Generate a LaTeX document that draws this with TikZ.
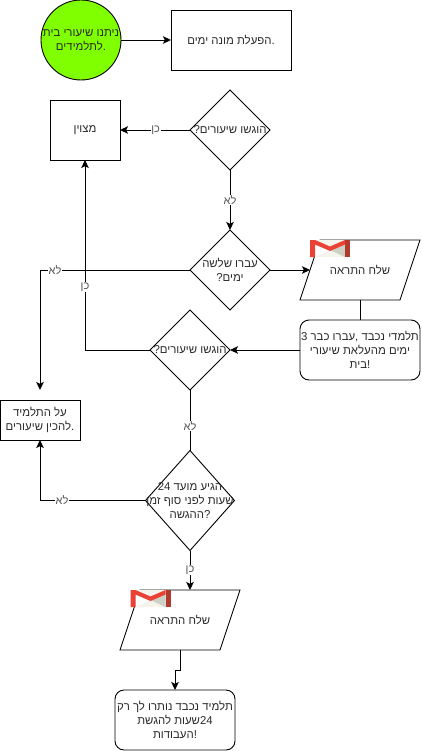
\documentclass[tikz,border=0pt]{standalone}
\usepackage{fontspec}
\setmainfont[Script=Hebrew]{Liberation Sans}
\usetikzlibrary{arrows.meta,shapes.geometric}
\TeXXeTstate=1
\definecolor{txt}{HTML}{2A2A2A}
\definecolor{lbl}{HTML}{555555}
\definecolor{startgreen}{HTML}{80FF00}
\definecolor{gmred}{HTML}{EA4335}
\definecolor{gmdark}{HTML}{B03A2E}
\definecolor{gmgrey}{HTML}{CDD0C4}
\definecolor{gmlight}{HTML}{F4F3EC}
\newcommand{\hb}[1]{\beginR #1\endR}
\newcommand{\nm}[1]{\beginL #1\endL{}}
\tikzset{
  x=1pt,y=-1pt,
  every node/.style={inner sep=0pt,outer sep=0pt,text=txt,font=\fontsize{11.4}{14}\selectfont,align=center,execute at begin node={\vspace*{2pt}}},
  flow/.style={draw=black,line width=0.9pt,-{Stealth[length=8pt,width=7.5pt,inset=1.8pt]}},
  plainline/.style={draw=black,line width=0.9pt},
  shp/.style={draw=black,line width=0.9pt},
  lab/.style={fill=white,text=lbl,font=\fontsize{11}{13}\selectfont,inner sep=0.5pt},
  dia/.style={shp,diamond,aspect=1,minimum width=80pt,minimum height=80pt,inner sep=0pt},
  parabox/.style={minimum width=120pt,minimum height=60pt},
  parashape/.style={shp,line join=miter},
  rbox/.style={shp,rounded corners=9pt,minimum width=120pt,minimum height=60pt},
  gm/.pic={
    \fill[gmlight] (0,0) rectangle (40,17);
    \fill[gmgrey] (35,4) -- (35,17) -- (20,10) -- cycle;
    \fill[white] (5,4) -- (5,17) -- (20,10) -- cycle;
    \fill[gmred] (0,0) -- (5,0) -- (20,6.5) -- (35,0) -- (35,4.5) -- (20,11) -- (5,4.5) -- (5,17) -- (0,17) -- cycle;
    \fill[gmdark] (35,0) -- (40,0) -- (40,17) -- (35,17) -- cycle;
  }
}
\begin{document}
\begin{tikzpicture}
\useasboundingbox (0,0) rectangle (421,751);
\node[shp,circle,fill=startgreen,minimum size=80pt] (start) at (81,40) {\hb{ניתנו שיעורי בית}\\\hb{לתלמידים}.};
\node[shp,minimum width=120pt,minimum height=60pt] (counter) at (231,40) {\hb{הפעלת מונה ימים}.};
\node[dia] (q1) at (230,130) {};
\node (q1t) at (q1) {\hb{הוגשו שיעורים?}};
\node[shp,minimum width=70pt,minimum height=60pt] (late) at (85,130) {\hb{מצוין}};
\node[dia] (q2) at (230,270) {};
\node (q2t) at (q2) {\hb{עברו שלשה}\\\hb{ימים?}};
\node[parabox] (mail1) at (360,270) {\hb{שלח התראה}};
\draw[parashape] (mail1.south west) -- ([xshift=20pt]mail1.north west) -- (mail1.north east) -- ([xshift=-20pt]mail1.south east) -- cycle;
\node[rbox] (msg1) at (360,350) {\hb{תלמדי נכבד ,עברו כבר \nm{3}}\\\hb{ימים מהעלאת שיעורי}\\\hb{בית}!};
\node[dia] (q3) at (190,350) {};
\node (q3t) at (q3) {\hb{הוגשו שיעורים?}};
\node[shp,minimum width=80pt,minimum height=40pt] (must) at (40,420) {\hb{על התלמיד}\\\hb{להכין שיעורים}.};
\node[dia,minimum width=89pt,minimum height=100pt,aspect=0.89] (q4) at (190,500.5) {};
\node (q4t) at (q4) {\hb{הגיע מועד \nm{24}}\\\hb{שעות לפני סוף זמן}\\\hb{ההגשה}?};
\node[parabox] (mail2) at (180,620) {\hb{שלח התראה}};
\draw[parashape] (mail2.south west) -- ([xshift=20pt]mail2.north west) -- (mail2.north east) -- ([xshift=-20pt]mail2.south east) -- cycle;
\node[rbox] (msg2) at (175,720) {\hb{תלמיד נכבד נותרו לך רק}\\\hb{\nm{24}שעות להגשת}\\\hb{העבודות}!};
\pic at (310,240) {gm};
\pic at (130.5,590) {gm};
\coordinate (b1) at (180,670);
\coordinate (b2) at (175,670);
\coordinate (c1) at (85,350);
\coordinate (c2) at (40,270);
\coordinate (c3) at (40,390);
\coordinate (c4) at (40,500.5);
\coordinate (m1in) at (310,270);
\coordinate (m2in) at (190,590);
\draw[flow] (start.east) -- (counter.west);
\draw[flow] (q1.west) -- node[lab,pos=0.49] {\hb{כן}} (late.east);
\draw[flow] (q1.south) -- node[lab] {\hb{לא}} (q2.north);
\draw[flow] (q2.east) -- (m1in);
\draw[plainline] (mail1.south) -- (msg1.north);
\draw[flow] (msg1.west) -- (q3.east);
\draw[flow] (q3.west) -- (c1) -- node[lab,pos=0.33] {\hb{כן}} (late.south);
\draw[flow] (q2.west) -- (c2) -- (c3);
\node[lab] (lno) at (55,270) {\hb{לא}};
\draw[plainline] (q3.south) -- node[lab,pos=0.6] {\hb{לא}} (q4.north);
\draw[flow] (q4.west) -- (c4) -- (must.south);
\node[lab] (lno2) at (62,500.5) {\hb{לא}};
\draw[flow] (q4.south) -- node[lab] {\hb{כן}} (m2in);
\draw[flow] (mail2.south) -- (b1) -- (b2) -- (msg2.north);
\end{tikzpicture}
\end{document}
